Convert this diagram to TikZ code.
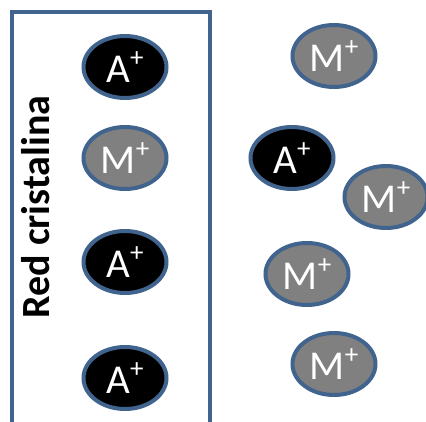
\documentclass[tikz,border=0pt]{standalone}
\usepackage{fontspec}
\setmainfont{Carlito}
\usetikzlibrary{shapes.geometric}
\definecolor{edge}{HTML}{41648F}
\definecolor{ionA}{HTML}{000000}
\definecolor{ionM}{HTML}{808080}
\tikzset{
  ion/.style={ellipse, draw=edge, line width=4pt, minimum width=83pt, minimum height=62pt, inner sep=0pt, text=white, font=\fontsize{41}{41}\selectfont},
  ionAstyle/.style={ion, fill=ionA},
  ionMstyle/.style={ion, fill=ionM},
  frame/.style={draw=edge, line width=3.2pt},
  label/.style={font=\bfseries\fontsize{40}{40}\selectfont, rotate=90}
}
\newcommand{\ionsup}{\raisebox{0.38em}{\fontsize{27}{27}\selectfont+}}
\begin{document}
\begin{tikzpicture}[x=1pt,y=-1pt]
\useasboundingbox (0,0) rectangle (426,421);
\draw[frame] (12,430) -- (12,12) -- (210,12) -- (210,430);
\node[label] (lbl) at (36,207) {Red cristalina};
\node[ionAstyle] (a1) at (125,67) {A\ionsup};
\node[ionMstyle] (m1) at (125,158) {M\ionsup};
\node[ionAstyle] (a2) at (125,262) {A\ionsup};
\node[ionAstyle] (a3) at (125,378) {A\ionsup};
\node[ionMstyle] (m2) at (334,56) {M\ionsup};
\node[ionAstyle] (a4) at (292,158) {A\ionsup};
\node[ionMstyle] (m3) at (386,197) {M\ionsup};
\node[ionMstyle] (m4) at (307,274) {M\ionsup};
\node[ionMstyle] (m5) at (334,364) {M\ionsup};
\end{tikzpicture}
\end{document}
